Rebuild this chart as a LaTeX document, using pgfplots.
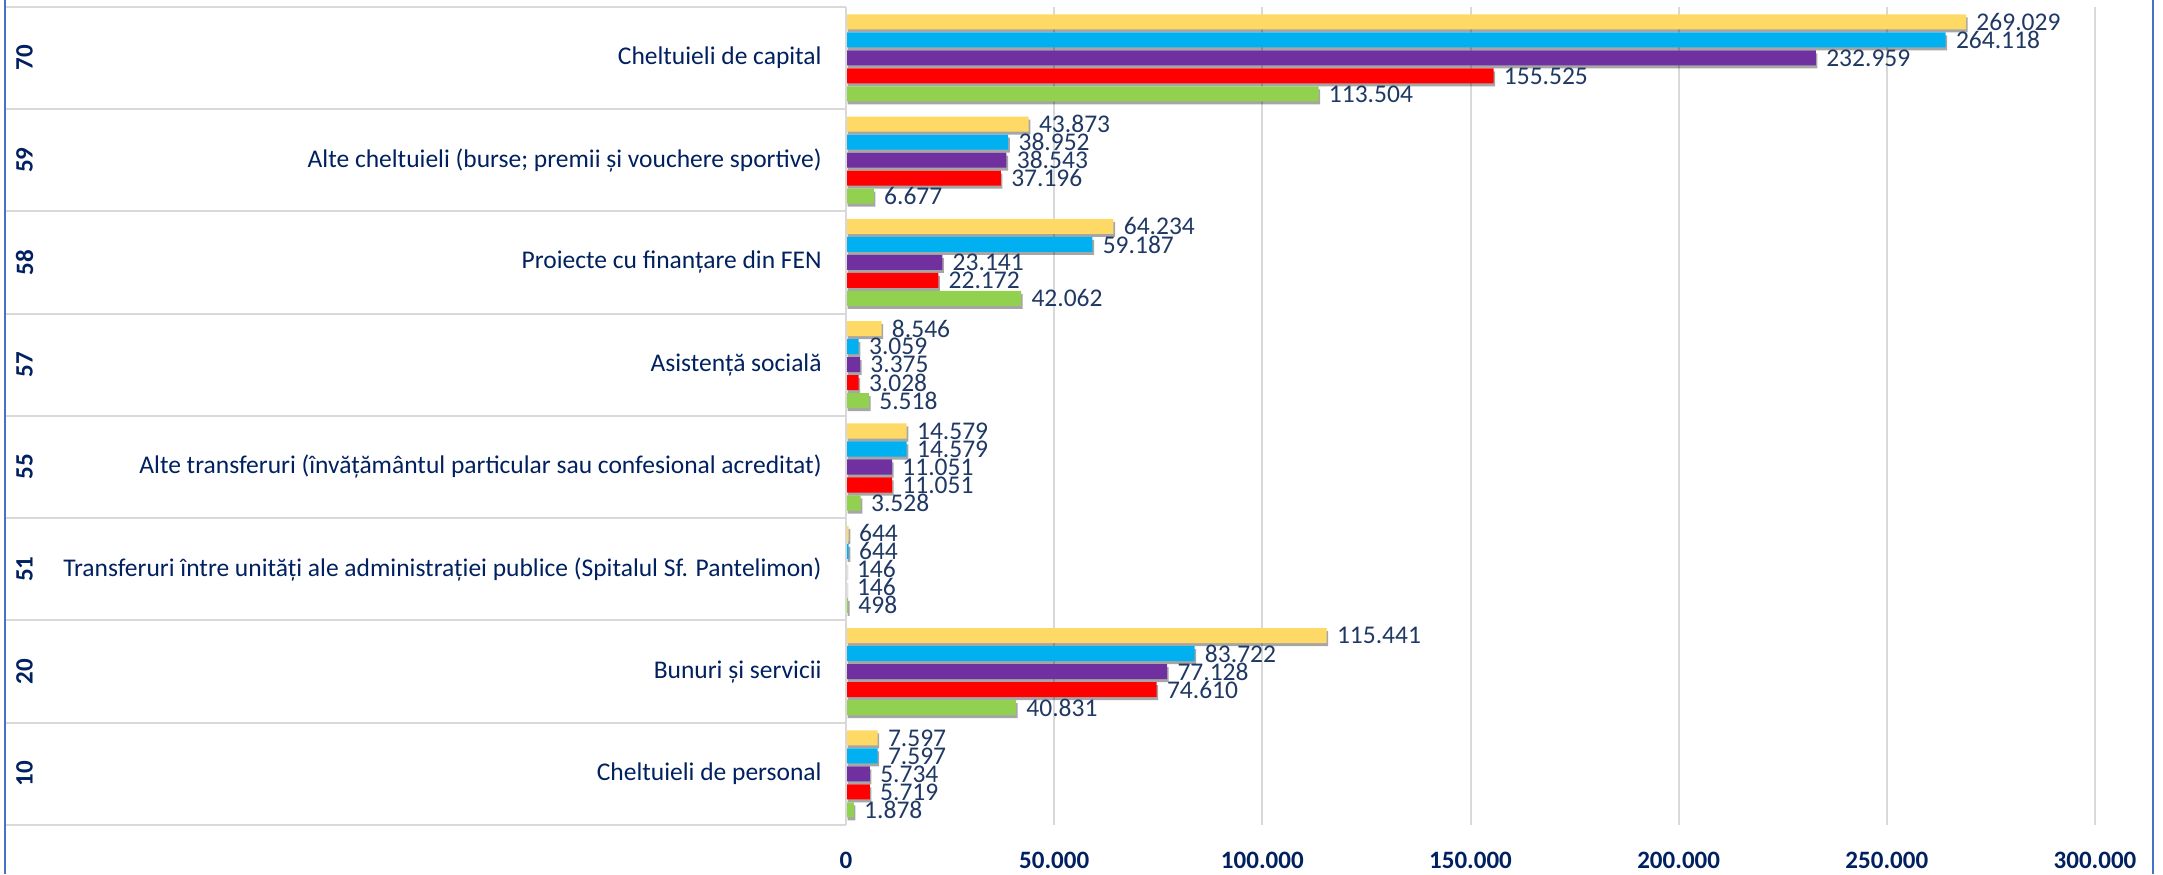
\documentclass[border=0pt]{standalone}
\usepackage{pgfplots}
\pgfplotsset{compat=1.18}
\usepackage{pgfplotstable}
\usepackage{fontspec}
\setmainfont{Carlito}
\usetikzlibrary{shadows,calc}
\definecolor{cyellow}{HTML}{FFD966}
\definecolor{cblue}{HTML}{00B0F0}
\definecolor{cpurple}{HTML}{7030A0}
\definecolor{cred}{HTML}{FF0000}
\definecolor{cgreen}{HTML}{92D050}
\definecolor{navy}{HTML}{002060}
\definecolor{lblnavy}{HTML}{1F3864}
\definecolor{gridgray}{HTML}{D9D9D9}
\definecolor{bordercol}{HTML}{4472C4}

\pgfplotstableread{
y a b c d e
0 7597 7597 5734 5719 1878
1 115441 83722 77128 74610 40831
2 644 644 146 146 498
3 14579 14579 11051 11051 3528
4 8546 3059 3375 3028 5518
5 64234 59187 23141 22172 42062
6 43873 38952 38543 37196 6677
7 269029 264118 232959 155525 113504
}\datatable

\newcommand{\lblfont}{\fontsize{12.75}{15}\selectfont}
\newcommand{\tickfont}{\fontsize{12.5}{15}\selectfont\bfseries}

\begin{document}
\begin{tikzpicture}
\path[use as bounding box] (0,0) rectangle (1081.5pt,437pt);
\begin{axis}[
  name=ax, at={(423pt,24.5pt)}, anchor=south west,
  scale only axis, width=624.5pt, height=409.15pt,
  xbar, bar width=0.147,
  xmin=0, xmax=300000, ymin=-0.5, ymax=7.5,
  xtick={0,50000,100000,150000,200000,250000,300000},
  scaled x ticks=false,
  ytick={0,1,2,3,4,5,6,7},
  yticklabels={
    {Cheltuieli de personal},
    {Bunuri și servicii},
    {Transferuri între unități ale administrației publice (Spitalul Sf. Pantelimon)},
    {Alte transferuri (învățământul particular sau confesional acreditat)},
    {Asistență socială},
    {Proiecte cu finanțare din FEN},
    {Alte cheltuieli (burse; premii și vouchere sportive)},
    {Cheltuieli de capital}},
  major tick length=0pt,
  axis line style={draw=none},
  xmajorgrids, major grid style={draw=gridgray, line width=1pt},
  xticklabel style={font=\tickfont, text=navy, anchor=north, inner sep=0pt, yshift=-13.5pt},
  yticklabel style={font=\lblfont, text=navy, anchor=east, inner sep=0pt, xshift=-12pt},
  /pgf/number format/1000 sep={.},
  /pgf/number format/fixed,
  /pgf/number format/precision=0,
  /pgf/number format/assume math mode=true,
  point meta=x,
  nodes near coords,
  every node near coord/.append style={anchor=west, inner sep=0pt, xshift=5pt, font=\lblfont, text=lblnavy},
  clip=false,
]
\addplot[fill=cyellow, draw=none, bar shift=0.352, drop shadow={shadow xshift=0.8pt, shadow yshift=-1.5pt, opacity=0.35, fill=black}] table[x=a, y=y] {\datatable};
\addplot[fill=cblue, draw=none, bar shift=0.176, drop shadow={shadow xshift=0.8pt, shadow yshift=-1.5pt, opacity=0.35, fill=black}] table[x=b, y=y] {\datatable};
\addplot[fill=cpurple, draw=none, bar shift=0, drop shadow={shadow xshift=0.8pt, shadow yshift=-1.5pt, opacity=0.35, fill=black}] table[x=c, y=y] {\datatable};
\addplot[fill=cred, draw=none, bar shift=-0.176, drop shadow={shadow xshift=0.8pt, shadow yshift=-1.5pt, opacity=0.35, fill=black}] table[x=d, y=y] {\datatable};
\addplot[fill=cgreen, draw=none, bar shift=-0.352, drop shadow={shadow xshift=0.8pt, shadow yshift=-1.5pt, opacity=0.35, fill=black}] table[x=e, y=y] {\datatable};

\node[rotate=90, font=\tickfont, text=navy] at ([xshift=-410.75pt]axis cs:0,7) {70};
\node[rotate=90, font=\tickfont, text=navy] at ([xshift=-410.75pt]axis cs:0,6) {59};
\node[rotate=90, font=\tickfont, text=navy] at ([xshift=-410.75pt]axis cs:0,5) {58};
\node[rotate=90, font=\tickfont, text=navy] at ([xshift=-410.75pt]axis cs:0,4) {57};
\node[rotate=90, font=\tickfont, text=navy] at ([xshift=-410.75pt]axis cs:0,3) {55};
\node[rotate=90, font=\tickfont, text=navy] at ([xshift=-410.75pt]axis cs:0,2) {51};
\node[rotate=90, font=\tickfont, text=navy] at ([xshift=-410.75pt]axis cs:0,1) {20};
\node[rotate=90, font=\tickfont, text=navy] at ([xshift=-410.75pt]axis cs:0,0) {10};
\end{axis}
\foreach \k in {0,...,8} {
  \draw[gridgray, line width=1pt] ($(ax.south west)!\k/8!(ax.north west)$) -- ++(-420.5pt,0);
}
\draw[gridgray, line width=1pt] (ax.south west) -- (ax.north west);
\draw[bordercol, line width=1.2pt] (2.4pt,0) -- (2.4pt,437pt);
\draw[bordercol, line width=1.2pt] (1076.4pt,0) -- (1076.4pt,437pt);
\end{tikzpicture}
\end{document}
